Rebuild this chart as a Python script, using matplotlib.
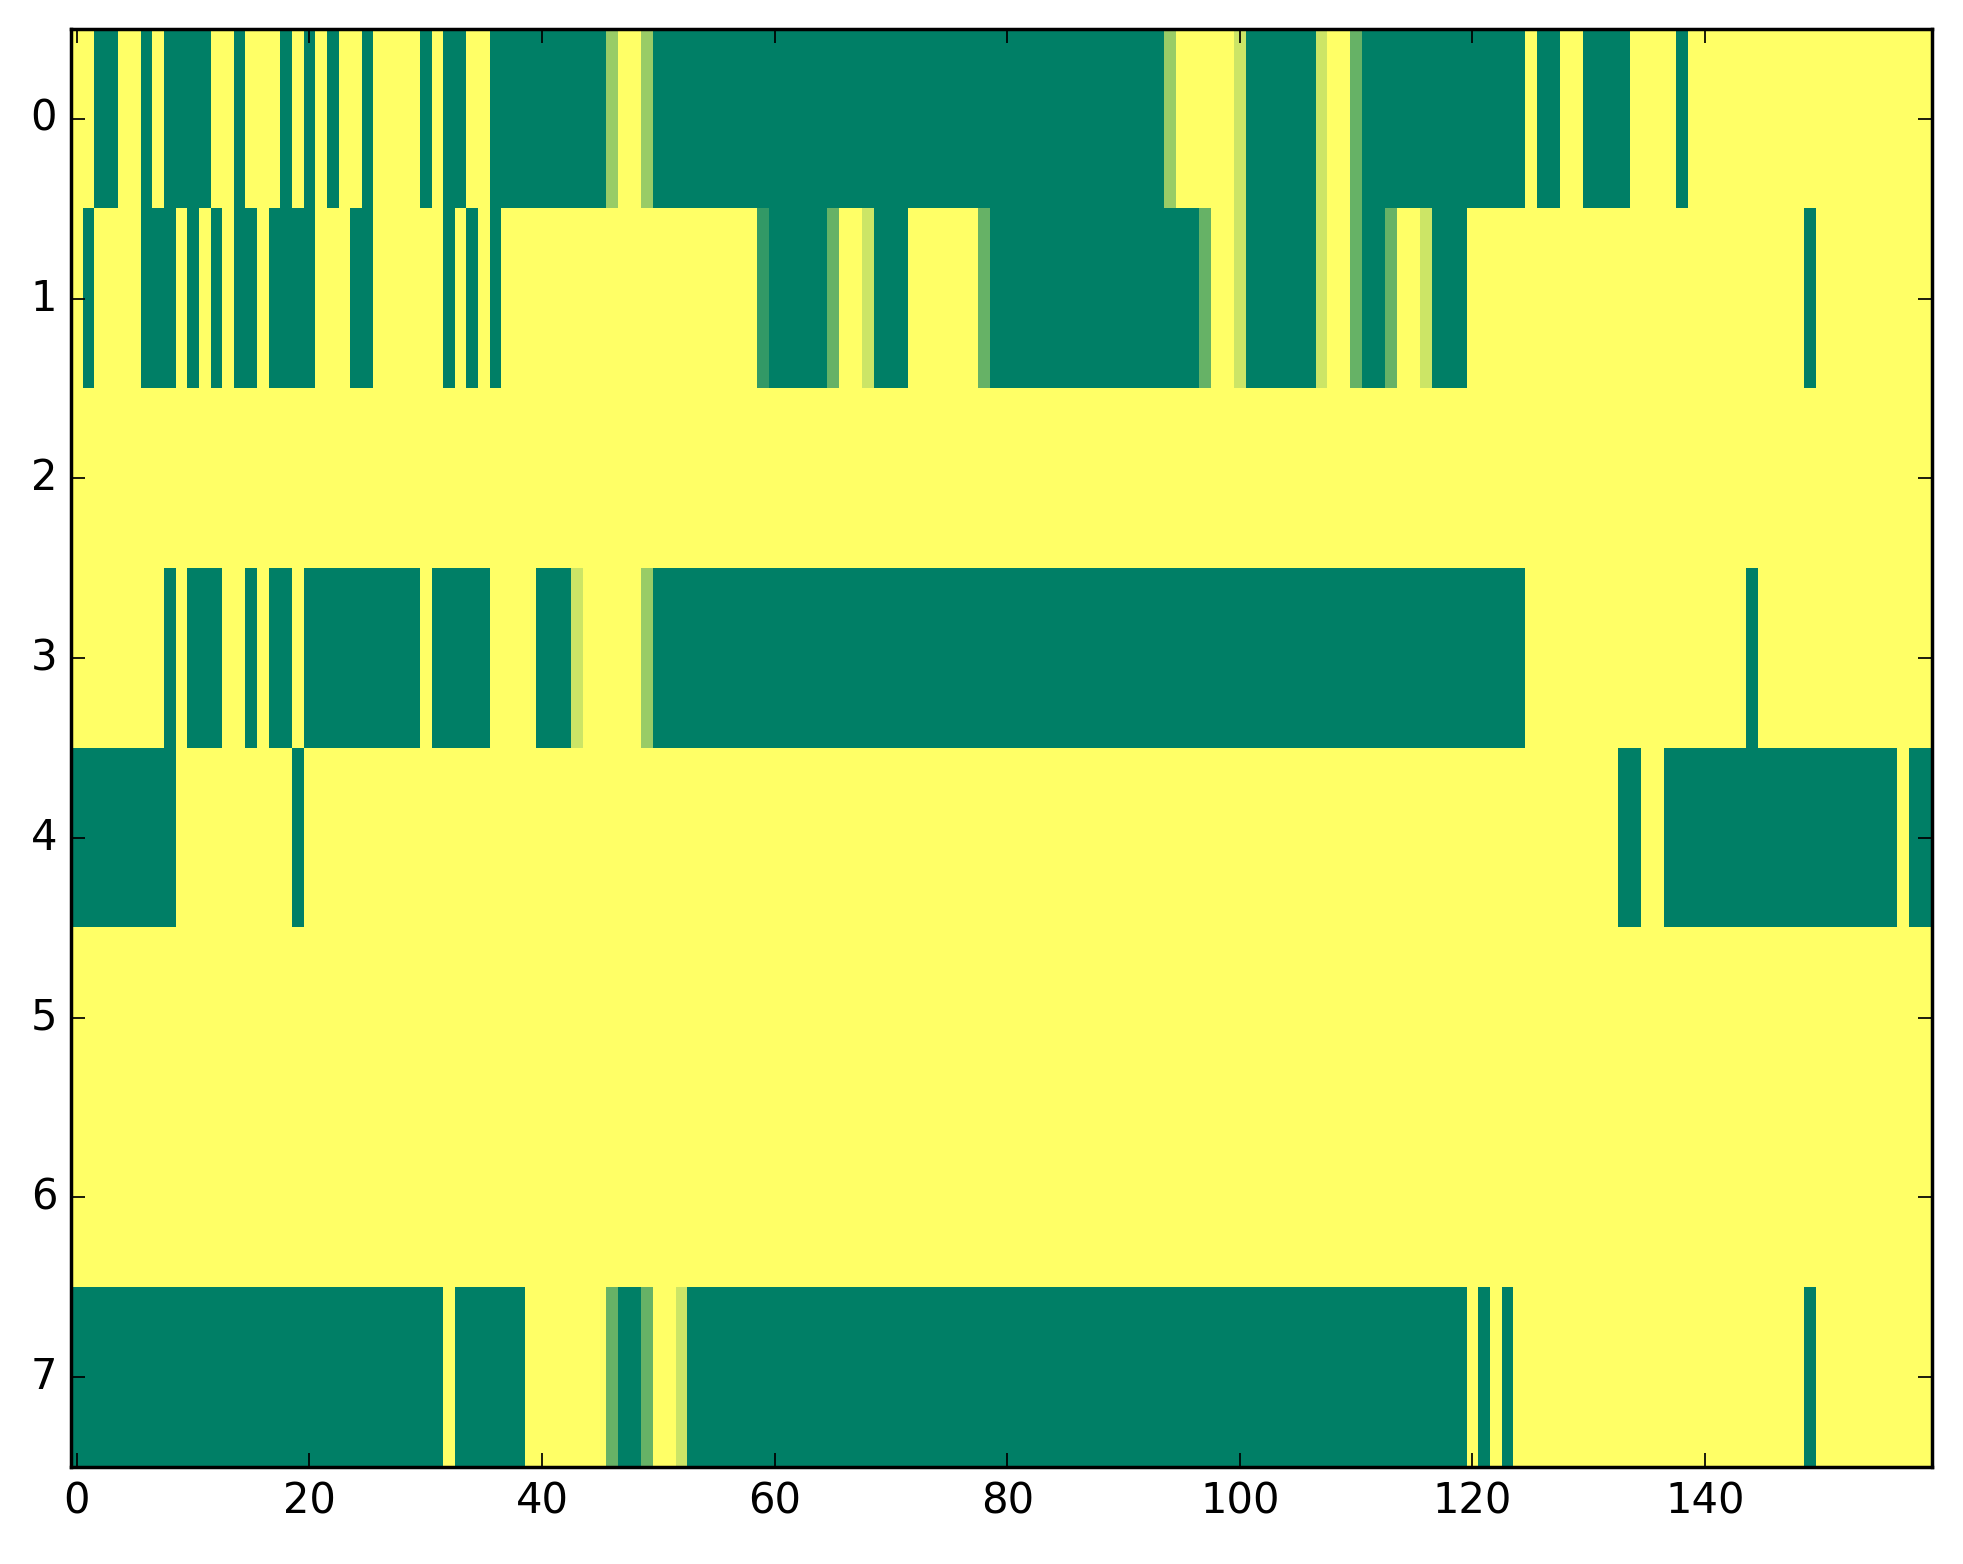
import numpy as np
import matplotlib
matplotlib.use("Agg")
import matplotlib.pyplot as plt

# each row as (value, run length) pairs, 160 columns per row
row0 = [(0, 2), (1, 2), (0, 2), (1, 1), (0, 1), (1, 4), (0, 2), (1, 1), (0, 3),
        (1, 1), (0, 1), (1, 1), (0, 1), (1, 1), (0, 2), (1, 1), (0, 4), (1, 1),
        (0, 1), (1, 2), (0, 2), (1, 10), (0.4, 1), (0, 2), (0.4, 1), (1, 44),
        (0.4, 1), (0, 5), (0.2, 1), (1, 6), (0.2, 1), (0, 2), (0.6, 1), (1, 14),
        (0, 1), (1, 2), (0, 2), (1, 4), (0, 4), (1, 1), (0, 21)]
row1 = [(0, 1), (1, 1), (0, 4), (1, 3), (0, 1), (1, 1), (0, 1), (1, 1), (0, 1),
        (1, 2), (0, 1), (1, 4), (0, 3), (1, 2), (0, 6), (1, 1), (0, 1), (1, 1),
        (0, 1), (1, 1), (0, 22), (0.8, 1), (1, 5), (0.6, 1), (0, 2), (0.2, 1),
        (1, 3), (0, 6), (0.6, 1), (1, 18), (0.6, 1), (0, 2), (0.2, 1), (1, 6),
        (0.2, 1), (0, 2), (0.6, 1), (1, 2), (0.6, 1), (0, 2), (0.2, 1), (1, 3),
        (0, 29), (1, 1), (0, 10)]
row2 = [(0, 160)]
row3 = [(0, 8), (1, 1), (0, 1), (1, 3), (0, 2), (1, 1), (0, 1), (1, 2), (0, 1),
        (1, 10), (0, 1), (1, 5), (0, 4), (1, 3), (0.2, 1), (0, 5), (0.4, 1),
        (1, 75), (0, 19), (1, 1), (0, 15)]
row4 = [(1, 9), (0, 10), (1, 1), (0, 113), (1, 2), (0, 2), (1, 20), (0, 1), (1, 2)]
row5 = [(0, 160)]
row6 = [(0, 160)]
row7 = [(1, 32), (0, 1), (1, 6), (0, 7), (0.6, 1), (1, 2), (0.6, 1), (0, 2),
        (0.2, 1), (1, 67), (0, 1), (1, 1), (0, 1), (1, 1), (0, 25), (1, 1), (0, 10)]

rows = [row0, row1, row2, row3, row4, row5, row6, row7]
data = np.array([np.repeat([v for v, n in r], [n for v, n in r]) for r in rows])

plt.style.use("classic")

fig = plt.figure(figsize=(1963 / 250, 1564 / 250), dpi=250, facecolor="white")
ax = fig.add_axes([0.0362, 0.062, 0.9479, 0.9194])
ax.imshow(data, cmap="summer_r", vmin=0, vmax=1, aspect="auto",
          interpolation="nearest")
ax.set_xticks(np.arange(0, 160, 20))
ax.set_yticks(np.arange(0, 8))
ax.set_xlim(-0.5, 159.5)
ax.set_ylim(7.5, -0.5)

fig.savefig("out.png", dpi=250, facecolor="white")
